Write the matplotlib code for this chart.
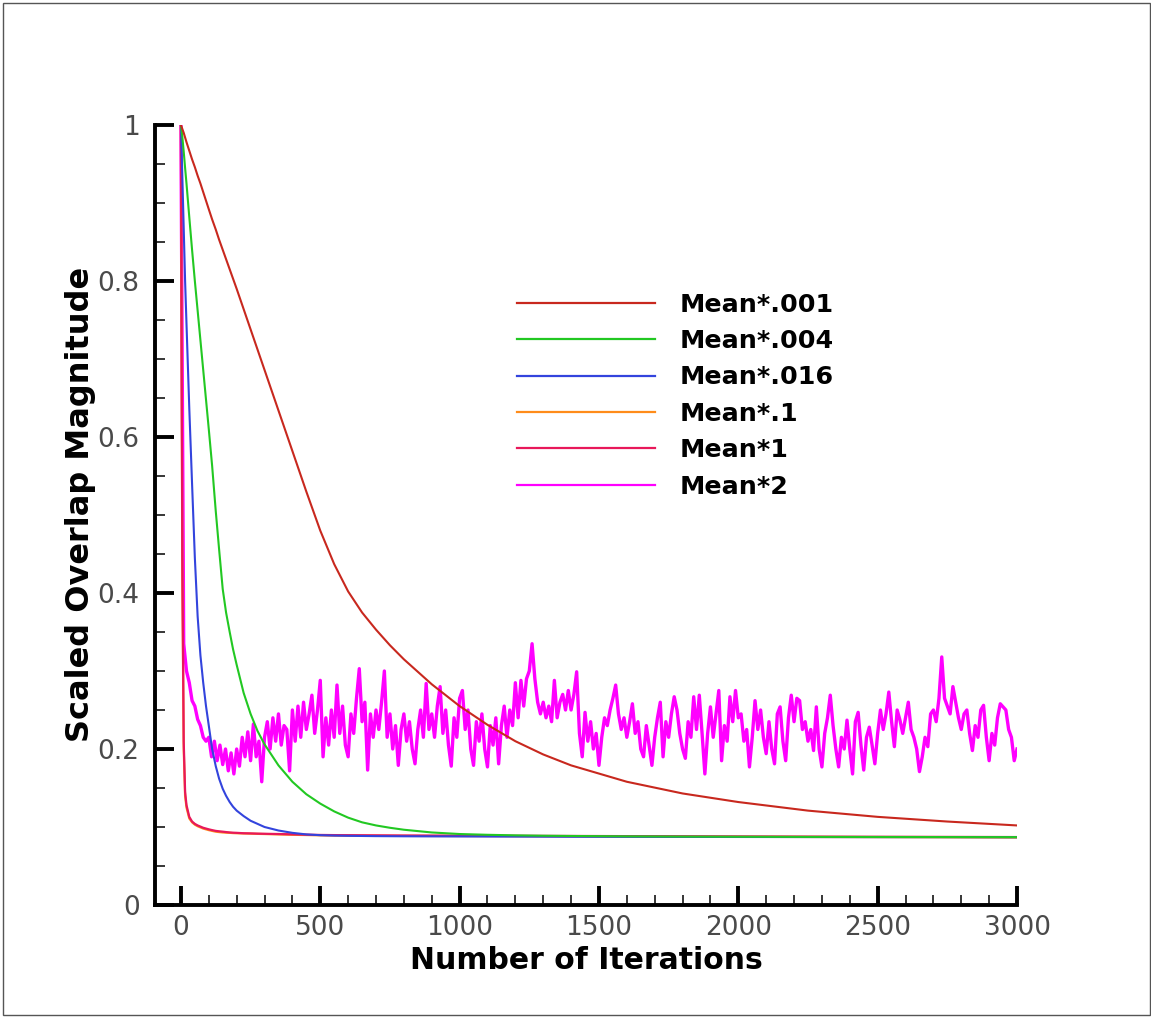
import numpy as np
import matplotlib
matplotlib.use("Agg")
import matplotlib.pyplot as plt
from matplotlib.ticker import MultipleLocator
from matplotlib.lines import Line2D

# ---------------- data ----------------
grid_iter = [0, 5, 10, 15, 20, 30, 40, 50, 60, 70, 80, 90, 100, 112, 125, 137, 150, 162,
             175, 187, 200, 225, 250, 275, 300, 350, 400, 450, 500, 550, 600, 650, 700,
             750, 800, 900, 1000, 1100, 1200, 1300, 1400, 1600, 1800, 2000, 2250, 2500,
             2750, 3000]

mean_001 = [1.0, 0.995, 0.99, 0.984, 0.978, 0.967, 0.956, 0.946, 0.935, 0.925, 0.914,
            0.903, 0.892, 0.879, 0.866, 0.853, 0.84, 0.828, 0.815, 0.803, 0.79, 0.764,
            0.738, 0.712, 0.686, 0.634, 0.582, 0.53, 0.48, 0.437, 0.402, 0.375, 0.353,
            0.333, 0.315, 0.283, 0.255, 0.231, 0.21, 0.193, 0.179, 0.158, 0.143, 0.132,
            0.121, 0.113, 0.107, 0.102]

mean_004 = [1.0, 0.985, 0.966, 0.945, 0.925, 0.882, 0.84, 0.8, 0.762, 0.724, 0.686,
            0.648, 0.61, 0.563, 0.505, 0.456, 0.405, 0.375, 0.35, 0.328, 0.308, 0.272,
            0.245, 0.223, 0.206, 0.179, 0.158, 0.142, 0.13, 0.12, 0.112, 0.106, 0.102,
            0.099, 0.0965, 0.093, 0.091, 0.09, 0.0893, 0.0888, 0.0885, 0.088, 0.0877,
            0.0875, 0.0873, 0.0872, 0.0871, 0.087]

mean_016 = [1.0, 0.935, 0.868, 0.8, 0.745, 0.637, 0.54, 0.445, 0.37, 0.32, 0.285,
            0.255, 0.23, 0.2, 0.178, 0.162, 0.149, 0.14, 0.132, 0.126, 0.121, 0.114,
            0.108, 0.104, 0.1, 0.0955, 0.0925, 0.0905, 0.0895, 0.089, 0.0887, 0.0885,
            0.0883, 0.0882, 0.0881, 0.088, 0.0879, 0.0878, 0.0877, 0.0876, 0.0875,
            0.0874, 0.0873, 0.0872, 0.0871, 0.087, 0.087, 0.0869]

mean_01 = [1.0, 0.42, 0.2, 0.14, 0.125, 0.111, 0.106, 0.103, 0.101, 0.0995, 0.098,
           0.097, 0.096, 0.095, 0.094, 0.0935, 0.093, 0.0927, 0.0925, 0.0922, 0.092,
           0.0917, 0.0915, 0.0912, 0.091, 0.0905, 0.09, 0.0897, 0.0893, 0.0891, 0.089,
           0.0889, 0.0888, 0.0887, 0.0886, 0.0885, 0.0884, 0.0883, 0.0882, 0.0881,
           0.088, 0.0878, 0.0876, 0.0874, 0.0872, 0.087, 0.0868, 0.0866]

mean_1 = [1.0, 0.45, 0.21, 0.145, 0.128, 0.113, 0.107, 0.104, 0.102, 0.1005, 0.099,
          0.098, 0.097, 0.096, 0.095, 0.0945, 0.094, 0.0935, 0.093, 0.0927, 0.0925,
          0.092, 0.0918, 0.0915, 0.0913, 0.091, 0.0906, 0.0902, 0.0898, 0.0896, 0.0895,
          0.0894, 0.0893, 0.0892, 0.0891, 0.089, 0.0889, 0.0888, 0.0887, 0.0886, 0.0885,
          0.0883, 0.0881, 0.0879, 0.0877, 0.0875, 0.0873, 0.0871]

mean_2_iter = np.arange(0, 3001, 10)
mean_2 = [
    1.0, 0.335, 0.3, 0.285, 0.262, 0.255, 0.238, 0.23, 0.215, 0.21,
    0.215, 0.19, 0.21, 0.185, 0.205, 0.18, 0.2, 0.172, 0.195, 0.168,
    0.2, 0.178, 0.215, 0.19, 0.222, 0.185, 0.232, 0.19, 0.21, 0.158,
    0.215, 0.235, 0.2, 0.24, 0.21, 0.245, 0.205, 0.23, 0.225, 0.172,
    0.25, 0.21, 0.255, 0.215, 0.26, 0.225, 0.245, 0.269, 0.22, 0.25,
    0.288, 0.19, 0.24, 0.205, 0.25, 0.215, 0.282, 0.22, 0.255, 0.205,
    0.19, 0.245, 0.22, 0.265, 0.303, 0.235, 0.26, 0.173, 0.245, 0.215,
    0.25, 0.225, 0.26, 0.3, 0.215, 0.245, 0.2, 0.23, 0.179, 0.225,
    0.245, 0.21, 0.235, 0.2, 0.181, 0.225, 0.25, 0.215, 0.284, 0.225,
    0.245, 0.215, 0.255, 0.28, 0.22, 0.25, 0.205, 0.178, 0.24, 0.215,
    0.265, 0.275, 0.225, 0.25, 0.2, 0.179, 0.235, 0.21, 0.245, 0.2,
    0.177, 0.23, 0.205, 0.24, 0.181, 0.23, 0.255, 0.215, 0.25, 0.23,
    0.285, 0.24, 0.288, 0.255, 0.29, 0.3, 0.335, 0.29, 0.26, 0.245,
    0.26, 0.24, 0.255, 0.235, 0.288, 0.24, 0.26, 0.27, 0.25, 0.275,
    0.25, 0.27, 0.299, 0.22, 0.19, 0.247, 0.21, 0.235, 0.2, 0.22,
    0.179, 0.215, 0.24, 0.23, 0.25, 0.265, 0.282, 0.245, 0.225, 0.24,
    0.215, 0.235, 0.258, 0.22, 0.235, 0.2, 0.19, 0.23, 0.205, 0.179,
    0.215, 0.24, 0.26, 0.19, 0.235, 0.215, 0.245, 0.267, 0.25, 0.22,
    0.2, 0.188, 0.235, 0.215, 0.267, 0.225, 0.269, 0.22, 0.168, 0.22,
    0.254, 0.215, 0.245, 0.275, 0.185, 0.23, 0.21, 0.267, 0.235, 0.275,
    0.24, 0.245, 0.21, 0.225, 0.177, 0.215, 0.262, 0.225, 0.25, 0.215,
    0.194, 0.235, 0.2, 0.181, 0.245, 0.254, 0.21, 0.185, 0.24, 0.269,
    0.235, 0.265, 0.262, 0.225, 0.235, 0.21, 0.225, 0.198, 0.254, 0.2,
    0.177, 0.22, 0.24, 0.269, 0.23, 0.2, 0.177, 0.215, 0.2, 0.237,
    0.2, 0.168, 0.235, 0.247, 0.205, 0.173, 0.215, 0.228, 0.205, 0.181,
    0.22, 0.25, 0.225, 0.245, 0.273, 0.235, 0.203, 0.25, 0.237, 0.22,
    0.24, 0.26, 0.225, 0.215, 0.2, 0.171, 0.19, 0.215, 0.203, 0.245,
    0.25, 0.235, 0.265, 0.318, 0.265, 0.255, 0.245, 0.28, 0.26, 0.24,
    0.225, 0.245, 0.25, 0.22, 0.198, 0.23, 0.215, 0.25, 0.256, 0.215,
    0.185, 0.22, 0.205, 0.24, 0.258, 0.254, 0.25, 0.225, 0.215, 0.185,
    0.2,
]

labels = ["Mean*.001", "Mean*.004", "Mean*.016", "Mean*.1", "Mean*1", "Mean*2"]
colors = ["#c8281e", "#22c822", "#3344dd", "#ff8c1a", "#e8185a", "#ff00ff"]

# ---------------- figure ----------------
W, H = 1151, 1017
fig = plt.figure(figsize=(W / 100, H / 100), dpi=100)
ax = fig.add_axes([155 / W, 1 - 905 / H, (1017 - 155) / W, (905 - 125) / H])

ax.plot(mean_2_iter, mean_2, color=colors[5], lw=2.4, zorder=1)
ax.plot(grid_iter, mean_1, color=colors[4], lw=1.6, zorder=3)
ax.plot(grid_iter, mean_01, color=colors[3], lw=1.6, zorder=2)
ax.plot(grid_iter, mean_016, color=colors[2], lw=1.5, zorder=4)
ax.plot(grid_iter, mean_004, color=colors[1], lw=1.5, zorder=5)
ax.plot(grid_iter, mean_001, color=colors[0], lw=1.5, zorder=6)

ax.set_xlim(-93, 3000)
ax.set_ylim(0, 1)

for s in ["top", "right"]:
    ax.spines[s].set_visible(False)
for s in ["left", "bottom"]:
    ax.spines[s].set_linewidth(2.8)
    ax.spines[s].set_color("black")

ax.xaxis.set_major_locator(MultipleLocator(500))
ax.xaxis.set_minor_locator(MultipleLocator(100))
ax.yaxis.set_major_locator(MultipleLocator(0.2))
ax.yaxis.set_minor_locator(MultipleLocator(0.05))
ax.yaxis.set_major_formatter(plt.FuncFormatter(
    lambda v, p: "0" if abs(v) < 1e-9 else ("1" if abs(v - 1) < 1e-9 else f"{v:.1f}")))

ax.tick_params(axis="both", which="major", direction="in", length=13.5, width=2.8,
               labelsize=19, labelcolor="#4a4a4a", color="black")
ax.tick_params(axis="both", which="minor", direction="in", length=7.5, width=1.1, color="black")
ax.tick_params(axis="x", which="major", pad=7)
ax.tick_params(axis="y", which="major", pad=11)

ax.set_xlabel("Number of Iterations", fontsize=21.5, fontweight="bold", labelpad=4)
ax.set_ylabel("Scaled Overlap Magnitude", fontsize=23, fontweight="bold")
ax.yaxis.set_label_coords(-0.068, 0.513)

handles = [Line2D([], [], color=c, lw=1.6) for c in colors]
leg = ax.legend(handles, labels, loc="upper left",
                bbox_to_anchor=((517 - 155) / 862, (905 - 292.5) / 780),
                frameon=False, fontsize=18.3, handlelength=5.43, handletextpad=0.95,
                labelspacing=0.49, borderpad=0, borderaxespad=0)
for t in leg.get_texts():
    t.set_fontweight("bold")

# figure frame
fig.add_artist(plt.Rectangle((3 / W, 2 / H), (W - 4) / W, (H - 5) / H, transform=fig.transFigure,
                             fill=False, edgecolor="#555555", lw=1.0))

fig.savefig("out.png", dpi=100, facecolor="white")
